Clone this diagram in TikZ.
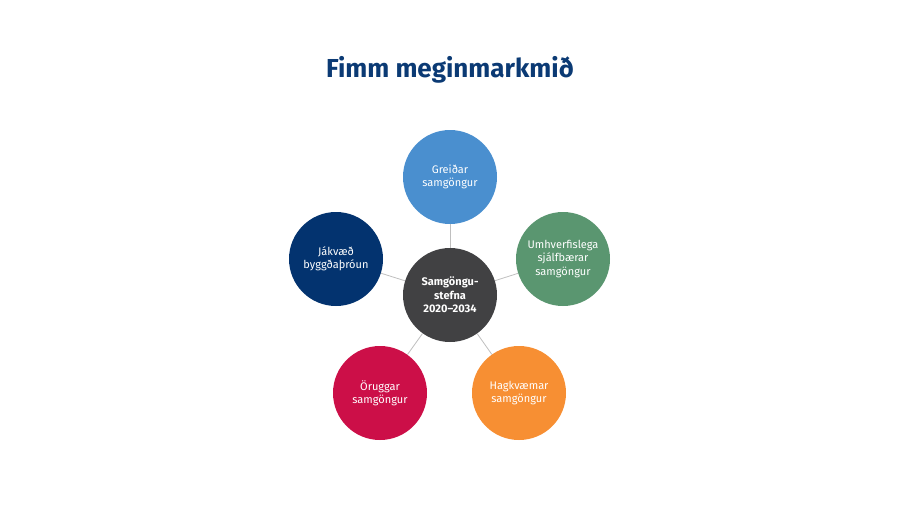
\documentclass[tikz,border=0pt]{standalone}
\usepackage{fontspec}
\setmainfont{Fira Sans}
\definecolor{titilBlar}{HTML}{0B3A74}
\definecolor{kjarniGrar}{HTML}{414143}
\definecolor{greidBlar}{HTML}{4A8FCF}
\definecolor{umhverfiGraenn}{HTML}{5A9670}
\definecolor{hagkvOrans}{HTML}{F78F33}
\definecolor{oryggiRaudur}{HTML}{CC0F48}
\definecolor{byggdDokkur}{HTML}{03336F}

\begin{document}
\begin{tikzpicture}[x=1pt,y=-1pt,
  markmid/.style={circle,minimum size=94pt,inner sep=0pt,align=center,
    text=white,font=\fontsize{11}{13.5}\selectfont},
  tengi/.style={draw=black!25,line width=0.8pt}]
  \useasboundingbox (0,0) rectangle (900,507);
  % Fyrirsogn efst
  \node[font=\bfseries\fontsize{26}{30}\selectfont,text=titilBlar] (titill) at (450,70) {Fimm meginmarkmið};
  % Kjarninn i midjunni
  \node[markmid,fill=kjarniGrar,font=\bfseries\fontsize{11}{13.5}\selectfont] (kjarni) at (450,295)
    {Samgöngu-\\stefna\\2020–2034};
  % Fimm markmid i hring um kjarnann
  \foreach \nafn/\x/\y/\litur/\texti in {
    greid/450/177/greidBlar/{Greiðar\\samgöngur},
    umhverfi/563/259/umhverfiGraenn/{Umhverfislega\\sjálfbærar\\samgöngur},
    hagkv/519/393/hagkvOrans/{Hagkvæmar\\samgöngur},
    oryggi/380/393/oryggiRaudur/{Öruggar\\samgöngur},
    byggd/336/259/byggdDokkur/{Jákvæð\\byggðaþróun}}{
    \node[markmid,fill=\litur] (\nafn) at (\x,\y) {\texti};
    \draw[tengi] (kjarni) -- (\nafn);
  }
\end{tikzpicture}
\end{document}
